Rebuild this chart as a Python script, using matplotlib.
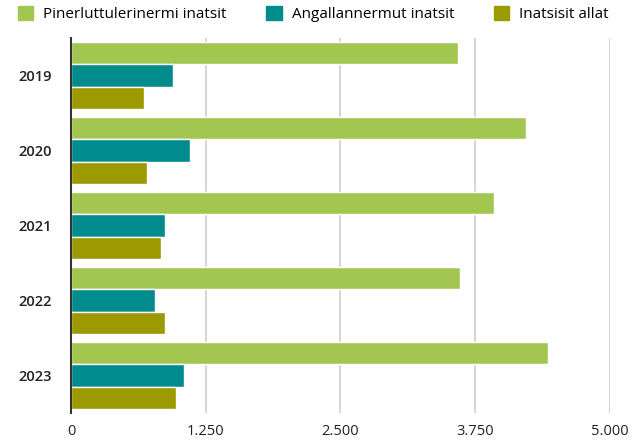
import numpy as np
import matplotlib.pyplot as plt
from matplotlib.patches import Patch

plt.rcParams['font.family'] = ['Open Sans', 'DejaVu Sans']

years = ["2019", "2020", "2021", "2022", "2023"]
series = ["Pinerluttulerinermi inatsit", "Angallannermut inatsit", "Inatsisit allat"]
pinerluttulerinermi = [3590, 4220, 3925, 3610, 4425]
angallannermut = [946, 1104, 872, 779, 1048]
allat = [677, 705, 835, 872, 974]
colors = ["#a3c651", "#008b8d", "#9c9a00"]

ticks = [0, 1250, 2500, 3750, 5000]
tick_labels = ["0", "1.250", "2.500", "3.750", "5.000"]

fig = plt.figure(figsize=(6.35, 4.41), dpi=100)
ax = fig.add_axes([0.1118, 0.0635, 0.8488, 0.8503])

y = np.arange(len(years))
h = 0.30
for i, vals in enumerate([pinerluttulerinermi, angallannermut, allat]):
    ax.barh(y + (i - 1) * h, vals, height=h, color=colors[i],
            edgecolor="white", linewidth=1, zorder=3)

ax.set_xlim(0, 5000)
ax.set_ylim(4.5, -0.5)
ax.set_yticks(y)
ax.set_yticklabels(years, fontsize=10.5, fontweight="semibold", color="#222222")
ax.set_xticks(ticks)
ax.set_xticklabels(tick_labels, fontsize=10.5, color="#222222")
ax.tick_params(axis="x", length=0, pad=8)
ax.tick_params(axis="y", length=0, pad=14)

ax.grid(axis="x", color="#d4d4dc", linewidth=1.4, zorder=0)
for s in ["top", "right", "bottom"]:
    ax.spines[s].set_visible(False)
ax.spines["left"].set_color("#333333")
ax.spines["left"].set_linewidth(1.5)
ax.spines["left"].set_zorder(4)

# legend across the top
handles = [Patch(color=c, label=l) for c, l in zip(colors, series)]
fig.legend(handles=handles, loc="upper left", bbox_to_anchor=(18 / 635, 1 - 6 / 441),
           ncol=3, frameon=False, fontsize=11, handlelength=1.0,
           handleheight=1.0, handletextpad=0.65, columnspacing=2.6,
           borderpad=0, borderaxespad=0)

fig.savefig("out.png", dpi=100)
